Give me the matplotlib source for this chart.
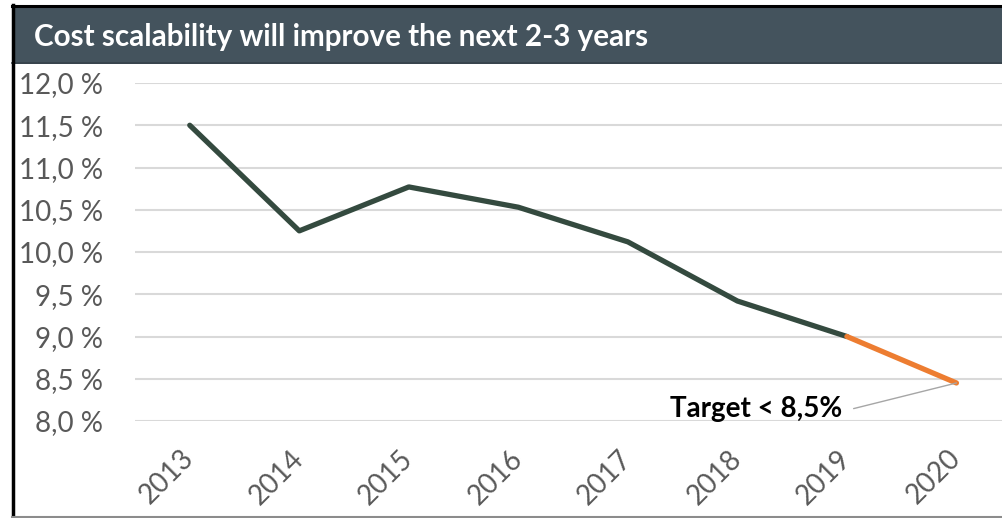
import matplotlib.pyplot as plt
from matplotlib.patches import Rectangle
from matplotlib.lines import Line2D

years = ['2013', '2014', '2015', '2016', '2017', '2018', '2019', '2020']
cost = [11.50, 10.25, 10.77, 10.53, 10.12, 9.42, 9.00, 8.45]
yticks = [8.0, 8.5, 9.0, 9.5, 10.0, 10.5, 11.0, 11.5, 12.0]
title = 'Cost scalability will improve the next 2-3 years'
target_label = 'Target < 8,5%'

plt.rcParams['font.family'] = ['Lato', 'DejaVu Sans']

fig = plt.figure(figsize=(10.02, 5.18), dpi=100)
W, H = 1002, 518

# title bar
fig.patches.append(Rectangle((12 / W, 1 - 64 / H), 1, 59 / H, transform=fig.transFigure,
                             facecolor='#44535d', edgecolor='none', zorder=0))
fig.lines.append(Line2D([12 / W, 1], [1 - 6 / H, 1 - 6 / H], transform=fig.transFigure,
                        color='black', lw=2.2))
fig.lines.append(Line2D([12 / W, 1], [1 - 63 / H, 1 - 63 / H], transform=fig.transFigure,
                        color='#36424a', lw=1.2))
fig.lines.append(Line2D([12.5 / W, 12.5 / W], [0, 1 - 5 / H], transform=fig.transFigure,
                        color='black', lw=2.5))
fig.lines.append(Line2D([12 / W, 1], [1.5 / H, 1.5 / H], transform=fig.transFigure,
                        color='#8c8c8c', lw=1.5))
fig.text(34 / W, 1 - 37 / H, title, color='white', fontsize=21.3, fontweight='bold',
         va='center', ha='left')

ax = fig.add_axes([135 / W, 97 / H, 867 / W, 338 / H])
x = list(range(len(years)))
ax.plot(x[:7], cost[:7], color='#344a3f', lw=3.8, solid_capstyle='round',
        solid_joinstyle='round', zorder=3)
ax.plot(x[6:], cost[6:], color='#ed7d31', lw=3.8, solid_capstyle='round', zorder=3)

ax.set_xlim(-0.5, 7.416)
ax.set_ylim(8, 12)
ax.set_yticks(yticks)
ax.set_yticklabels([f'{v:.1f} %'.replace('.', ',') for v in yticks])
ax.set_xticks(x)
ax.set_xticklabels(years, rotation=45, ha='right', va='center', rotation_mode='anchor')
ax.tick_params(axis='both', length=0, colors='#595959', labelsize=20)
ax.tick_params(axis='y', pad=23)
ax.tick_params(axis='x', pad=24)
ax.grid(axis='y', color='#d9d9d9', lw=1.5)
ax.set_axisbelow(True)
for s in ax.spines.values():
    s.set_visible(False)

ax.annotate(target_label, xy=(x[-1], cost[-1]), xytext=(-82, -19),
            textcoords='offset points', ha='right', va='center', fontsize=20,
            fontweight='bold', color='black',
            arrowprops=dict(arrowstyle='-', color='#a6a6a6', lw=1,
                            connectionstyle='arc,angleA=0,armA=8,angleB=0,armB=0,rad=0',
                            shrinkA=6, shrinkB=0, relpos=(1, 0.5)))

fig.savefig('out.png', dpi=100)
